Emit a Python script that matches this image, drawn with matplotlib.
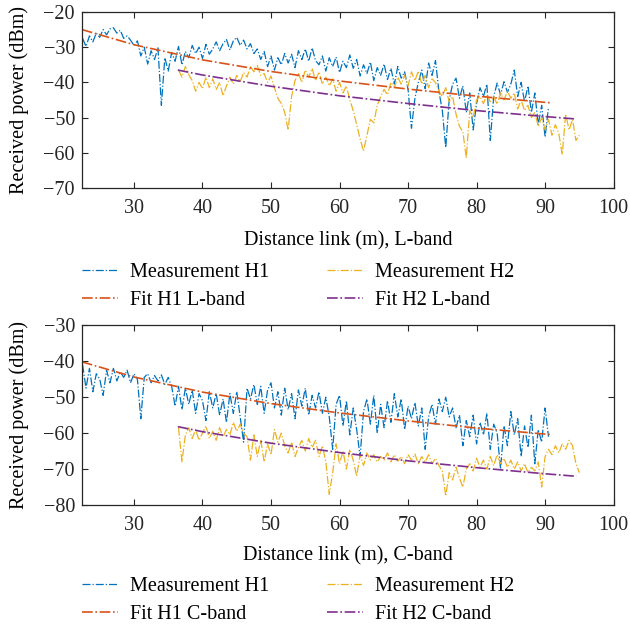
"""
Received power vs link distance, L-band (top) and C-band (bottom).
Measurements H1/H2 plus log-distance fit lines, MATLAB-ish styling.
"""

import matplotlib

matplotlib.use("Agg")
import matplotlib.pyplot as plt
import numpy as np

plt.rcParams["font.family"] = ["Liberation Serif", "DejaVu Serif"]
plt.rcParams["axes.unicode_minus"] = True

# MATLAB default colour order
BLUE = "#0072BD"
RED = "#D95319"
YELLOW = "#EDB120"
PURPLE = "#7E2F8E"

# ---- distance grids (m), sampled every 0.5 m ----
dist_h1 = np.arange(22.5, 91.0, 0.5)   # 22.5 .. 90.5
dist_h2 = np.arange(36.5, 95.5, 0.5)   # 36.5 .. 95.0

# ---- L-band measurements (dBm) ----
l_meas_h1 = [
    -27.5, -29.8, -26.8, -28.5, -26.0, -27.2, -25.0, -26.5, -24.8,
    -24.5, -26.0, -25.2, -27.5, -26.8, -28.0, -29.5, -28.2, -32.5, -30.0,
    -34.8, -31.0, -33.5, -30.2, -46.5, -33.0, -36.8, -31.5, -34.0, -29.8,
    -35.0, -31.2, -33.0, -29.5, -31.8, -30.0, -33.2, -29.2, -32.0, -30.5,
    -28.5, -31.0, -29.0, -27.8, -30.8, -28.2, -27.2, -29.5, -28.0, -30.5,
    -29.0, -31.8, -30.5, -33.5, -31.2, -35.5, -32.5, -36.5, -33.0, -35.0,
    -31.8, -34.5, -32.0, -35.8, -31.0, -33.5, -30.5, -34.0, -30.2, -33.8,
    -35.0, -32.5, -36.8, -33.0, -35.5, -32.8, -37.2, -34.0, -35.8, -32.2,
    -36.0, -33.5, -38.2, -35.0, -37.5, -34.2, -39.5, -35.8, -38.0, -34.8,
    -39.2, -36.0, -40.5, -35.5, -38.8, -37.0, -42.0, -53.0, -44.5, -40.0,
    -36.5, -41.8, -34.5, -38.0, -33.8, -42.5, -48.0, -58.5, -45.0, -40.5,
    -38.8, -44.5, -41.0, -48.5, -43.0, -53.5, -46.0, -41.5, -44.0, -40.5,
    -56.5, -44.0, -40.2, -43.5, -39.8, -42.8, -40.5, -36.5, -44.0, -40.0,
    -45.5, -41.0, -48.5, -43.0, -52.0, -46.5, -55.5, -47.0,
]
l_meas_h2 = [
    -36.5, -38.5, -35.5, -37.8, -39.5, -42.5, -40.0, -41.8,
    -38.5, -41.5, -39.0, -42.0, -40.0, -43.8, -41.0, -38.5, -40.5, -38.0,
    -39.8, -37.2, -38.5, -35.5, -37.0, -35.2, -38.0, -37.5, -40.0, -38.2,
    -41.5, -44.5, -46.0, -48.5, -53.5, -44.0, -39.5, -37.5, -40.0, -36.5,
    -38.5, -36.0, -39.5, -37.0, -40.5, -38.5, -41.0, -39.0, -42.5, -40.0,
    -43.0, -41.0, -45.0, -48.0, -52.0, -56.0, -59.5, -55.0, -50.5, -51.5,
    -46.5, -44.0, -42.0, -43.5, -40.0, -41.5, -38.5, -40.5, -38.0, -41.0,
    -37.0, -39.5, -36.8, -40.5, -38.0, -41.5, -39.0, -40.0, -42.5, -44.0,
    -41.5, -45.5, -44.0, -49.0, -52.5, -54.0, -61.5, -48.0, -50.0, -45.0,
    -44.0, -46.0, -43.5, -45.5, -44.0, -46.2, -43.0, -45.0, -42.5, -44.5,
    -43.0, -47.5, -45.0, -48.0, -46.5, -50.0, -48.5, -52.5, -50.0, -53.5,
    -50.5, -55.0, -52.0, -54.5, -60.5, -49.0, -53.5, -50.5, -56.5, -55.0,
]

# ---- C-band measurements (dBm) ----
c_meas_h1 = [
    -41.0, -47.5, -42.0, -48.5, -43.5, -45.0, -49.5, -42.5, -46.0,
    -42.0, -45.5, -43.0, -44.5, -42.5, -46.0, -43.5, -45.0, -56.0, -44.5,
    -43.5, -46.0, -44.0, -45.5, -43.8, -46.5, -44.5, -47.0, -52.5, -47.0,
    -53.5, -47.5, -52.0, -48.0, -54.5, -49.0, -51.0, -56.5, -48.5, -53.0,
    -49.0, -55.0, -50.5, -57.0, -49.0, -54.5, -48.5, -55.5, -62.5, -47.5,
    -50.5, -46.5, -52.0, -47.0, -54.5, -48.0, -46.0, -53.0, -48.5, -55.0,
    -47.5, -53.5, -49.0, -56.0, -48.0, -52.5, -47.5, -55.0, -49.5, -53.0,
    -48.5, -54.5, -50.0, -55.5, -64.5, -52.0, -49.5, -58.0, -51.0, -60.5,
    -53.0, -59.0, -66.5, -54.0, -50.5, -57.5, -49.5, -60.0, -52.0, -58.5,
    -51.0, -57.0, -49.0, -55.5, -50.5, -59.0, -52.5, -56.0, -51.5, -58.0,
    -53.0, -64.5, -55.5, -52.0, -57.5, -50.5, -54.0, -50.0, -55.5, -53.0,
    -58.5, -55.0, -63.5, -56.5, -61.0, -55.0, -63.0, -57.0, -60.5, -54.5,
    -64.5, -57.5, -60.0, -70.0, -58.0, -63.5, -54.0, -60.5, -56.0, -66.5,
    -58.0, -64.0, -55.0, -68.5, -59.0, -62.5, -53.0, -61.0,
]
c_meas_h2 = [
    -58.5, -68.0, -60.5, -58.5, -61.5, -59.0, -62.0, -60.0,
    -58.0, -61.5, -59.5, -62.0, -58.5, -61.0, -59.0, -60.5, -57.0, -59.5,
    -57.5, -60.0, -61.0, -67.5, -60.5, -66.5, -62.0, -68.0, -63.0, -66.0,
    -59.0, -62.5, -60.0, -63.5, -65.5, -62.5, -66.5, -64.0, -62.0, -65.0,
    -61.5, -64.0, -62.0, -66.5, -63.5, -68.0, -77.0, -71.0, -63.0, -68.5,
    -65.0, -70.0, -64.5, -67.5, -72.0, -66.0, -69.0, -65.5, -67.5, -66.0,
    -68.0, -66.5, -67.5, -65.5, -68.0, -66.0, -67.8, -66.5, -68.5, -66.0,
    -67.5, -65.8, -68.5, -66.5, -68.0, -66.0, -68.5, -67.0, -69.0, -70.5,
    -77.5, -71.0, -73.0, -69.5, -72.5, -75.0, -70.0, -68.5, -70.5, -67.0,
    -69.5, -67.5, -70.0, -66.5, -69.0, -66.0, -68.5, -67.0, -69.5, -67.5,
    -70.0, -68.0, -70.5, -68.5, -71.0, -69.5, -70.5, -68.0, -75.0, -66.5,
    -64.5, -66.0, -63.5, -65.5, -63.0, -64.5, -62.0, -63.5, -68.5, -71.0,
]

# ---- fit lines ----
fit_dist_h1 = [22.4, 30, 40, 50, 60, 70, 80, 90.8]
fit_dist_h2 = [36.4, 40, 50, 60, 70, 80, 90, 94.6]
l_fit_h1 = [-25.0, -29.3, -33.6, -36.9, -39.6, -41.9, -43.9, -45.8]
l_fit_h2 = [-36.5, -37.9, -41.1, -43.8, -46.0, -48.0, -49.7, -50.4]
c_fit_h1 = [-40.2, -44.4, -48.6, -51.8, -54.4, -56.6, -58.6, -60.4]
c_fit_h2 = [-58.2, -59.6, -62.8, -65.4, -67.7, -69.6, -71.3, -72.0]

X_TICKS = [30, 40, 50, 60, 70, 80, 90, 100]
FS = 14.5

fig = plt.figure(figsize=(6.30, 6.29), dpi=100)
ax_l = fig.add_axes([0.130, 0.701, 0.844, 0.280])
ax_c = fig.add_axes([0.130, 0.197, 0.844, 0.286])

panels = [
    (ax_l, l_meas_h1, l_meas_h2, l_fit_h1, l_fit_h2, "L-band",
     [-70, -20], [-20, -30, -40, -50, -60, -70], -0.245, 0.582),
    (ax_c, c_meas_h1, c_meas_h2, c_fit_h1, c_fit_h2, "C-band",
     [-80, -30], [-30, -40, -50, -60, -70, -80], -0.227, 0.083),
]

for ax, m1, m2, f1, f2, band, ylim, yticks, xlab_y, leg_top in panels:
    h_m1, = ax.plot(dist_h1, m1, "-.", color=BLUE, lw=0.9,
                    label="Measurement H1")
    h_m2, = ax.plot(dist_h2, m2, "-.", color=YELLOW, lw=0.9,
                    label="Measurement H2")
    h_f1, = ax.plot(fit_dist_h1, f1, "-.", color=RED, lw=1.2,
                    label=f"Fit H1 {band}")
    h_f2, = ax.plot(fit_dist_h2, f2, "-.", color=PURPLE, lw=1.2,
                    label=f"Fit H2 {band}")

    ax.set_xlim(22.4, 100)
    ax.set_ylim(*ylim)
    ax.set_xticks(X_TICKS)
    ax.set_yticks(yticks)
    ax.tick_params(direction="in", top=True, right=True, length=4,
                   width=0.8, colors="#262626", labelsize=FS)
    ax.tick_params(axis="x", pad=8)
    ax.tick_params(axis="y", pad=5)
    for sp in ax.spines.values():
        sp.set_color("#262626")
        sp.set_linewidth(0.9)

    ax.set_xlabel(f"Distance link (m), {band}", fontsize=FS)
    ax.xaxis.set_label_coords(0.5, xlab_y)
    ax.set_ylabel("Received power (dBm)", fontsize=FS)
    ax.yaxis.set_label_coords(-0.10, 0.5)

    fig.legend(handles=[h_m1, h_f1, h_m2, h_f2], ncol=2, frameon=False,
               loc="upper left", bbox_to_anchor=(82 / 630, leg_top),
               borderpad=0, borderaxespad=0, fontsize=FS,
               handlelength=1.8, handletextpad=0.6, columnspacing=2.85,
               labelspacing=0.45)

fig.savefig("out.png", dpi=100)
